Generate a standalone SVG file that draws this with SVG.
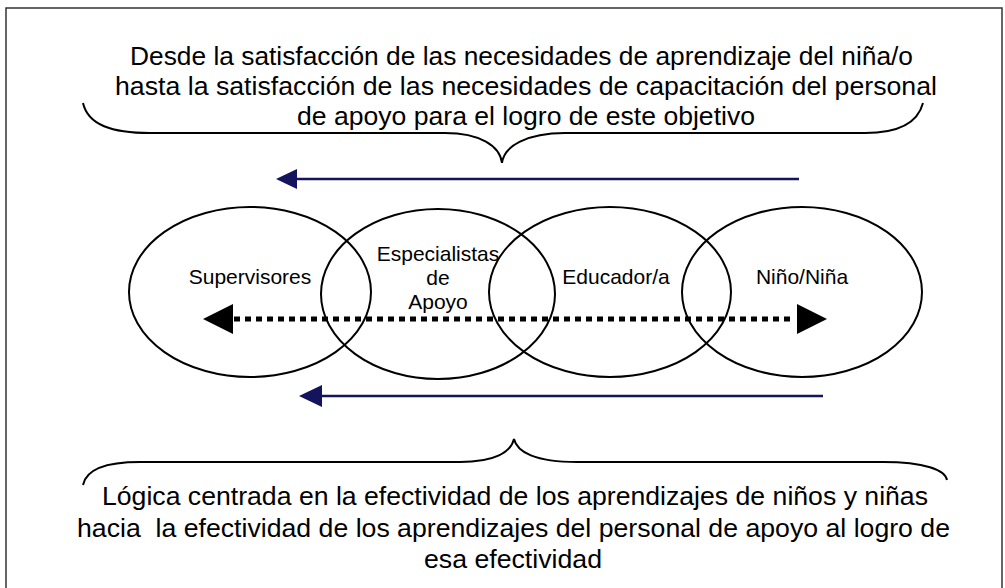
<svg xmlns="http://www.w3.org/2000/svg" width="1005" height="588" viewBox="0 0 1005 588">
<defs>
<style>
.t{font-family:"Liberation Sans",Arial,sans-serif;fill:#000;}
.big{font-size:26.5px;}
.lbl{font-size:21px;}
.ell{fill:none;stroke:#000;stroke-width:2;}
.brace{fill:none;stroke:#000;stroke-width:2;}
.blue{stroke:#14145e;stroke-width:2.5;fill:none;}
.dot{stroke:#000;stroke-width:5;stroke-dasharray:6 5;fill:none;}
</style>
</defs>
<rect x="0" y="0" width="1005" height="588" fill="#fff"/>
<rect x="6" y="8" width="996" height="590" fill="none" stroke="#333" stroke-width="1.5"/>

<g id="top-text">
<text class="t big" x="130" y="65" textLength="783" lengthAdjust="spacingAndGlyphs">Desde la satisfacción de las necesidades de aprendizaje del niña/o</text>
<text class="t big" x="115" y="95" textLength="822" lengthAdjust="spacingAndGlyphs">hasta la satisfacción de las necesidades de capacitación del personal</text>
<text class="t big" x="297" y="125" textLength="458" lengthAdjust="spacingAndGlyphs">de apoyo para el logro de este objetivo</text>
</g>
<g id="bottom-text">
<text class="t big" x="102" y="505" textLength="826" lengthAdjust="spacingAndGlyphs">Lógica centrada en la efectividad de los aprendizajes de niños y niñas</text>
<text class="t big" x="77" y="537" textLength="873" lengthAdjust="spacingAndGlyphs" xml:space="preserve" style="white-space:pre">hacia  la efectividad de los aprendizajes del personal de apoyo al logro de</text>
<text class="t big" x="424" y="568" textLength="178" lengthAdjust="spacingAndGlyphs">esa efectividad</text>
</g>

<g id="braces">
<path class="brace" d="M83,103 C88,125 112,133 150,133 L445,133 C480,133 500,146 502,163 C504,146 527,133 565,133 L865,133 C900,133 918,122 923,103"/>
<path class="brace" d="M83,485 C86,470 105,462 140,462 L460,462 C495,462 511,452 514,439 C517,452 535,462 577,462 L883,462 C925,462 945,470 947,480"/>
</g>

<g id="node-supervisores">
<ellipse class="ell" cx="250" cy="292" rx="121" ry="85"/>
<text class="t lbl" x="250" y="284" text-anchor="middle">Supervisores</text>
</g>
<g id="node-especialistas">
<ellipse class="ell" cx="438" cy="294" rx="117" ry="85"/>
<text class="t lbl" x="438" y="261" text-anchor="middle">Especialistas</text>
<text class="t lbl" x="438" y="285" text-anchor="middle">de</text>
<text class="t lbl" x="438" y="309" text-anchor="middle">Apoyo</text>
</g>
<g id="node-educador">
<ellipse class="ell" cx="610" cy="292" rx="121" ry="85"/>
<text class="t lbl" x="616" y="284" text-anchor="middle">Educador/a</text>
</g>
<g id="node-nino">
<ellipse class="ell" cx="802" cy="292" rx="120" ry="85"/>
<text class="t lbl" x="802" y="284" text-anchor="middle">Niño/Niña</text>
</g>

<g id="connectors">
<line class="blue" x1="799" y1="179" x2="295" y2="179"/>
<polygon points="276,179 297,169 297,189" fill="#14145e"/>
<line class="blue" x1="823" y1="396" x2="320" y2="396"/>
<polygon points="299,396 322,385 322,407" fill="#14145e"/>
<line class="dot" x1="234" y1="319" x2="795" y2="319"/>
<polygon points="203,319 233,304 233,334" fill="#000"/>
<polygon points="827,319 797,304 797,334" fill="#000"/>
</g>
</svg>
